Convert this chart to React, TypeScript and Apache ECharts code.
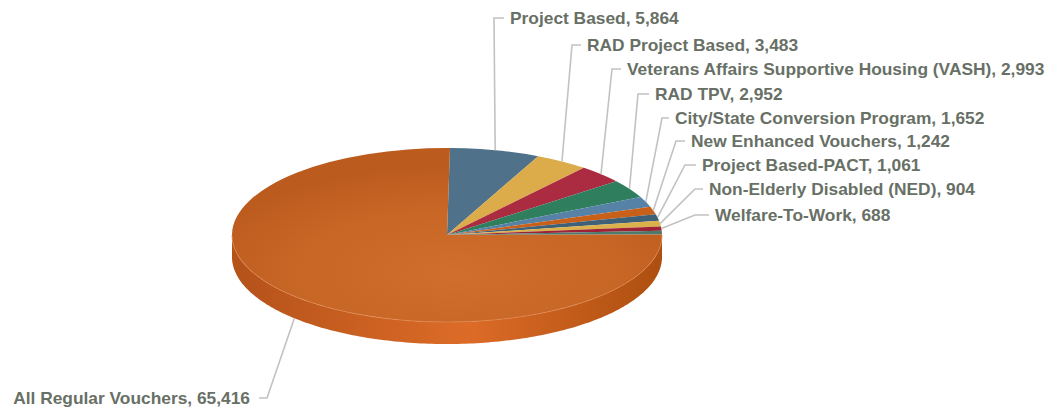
import React, { useEffect, useRef } from "react";
import * as echarts from "echarts";

const categories = [
  "Project Based",
  "RAD Project Based",
  "Veterans Affairs Supportive Housing (VASH)",
  "RAD TPV",
  "City/State Conversion Program",
  "New Enhanced Vouchers",
  "Project Based-PACT",
  "Non-Elderly Disabled (NED)",
  "Welfare-To-Work",
  "",
  "All Regular Vouchers",
];
const values = [5864, 3483, 2993, 2952, 1652, 1242, 1061, 904, 688, 600, 65416];
const sliceColors = [
  "#4f7189", "#dcab4a", "#ab2b41", "#2f7f5f", "#5582a6",
  "#c9601a", "#3f6178", "#dbb14b", "#9e2237", "#4d7a6c", "#c4611f",
];

// Where each label's leader line bends, and where its text begins.
const labelElbowX = [494, 572, 612, 638, 662, 676, 685, 695, 695, 0, 267];
const labelTextX = [510, 587, 627, 655, 675, 691, 702, 709, 715, 0, 250];
const labelY = [18, 45, 69, 94, 118, 141, 165, 189, 215, 0, 398];

const CX = 447;
const CY = 235;
const RX = 215;
const RY = 87;
const DEPTH = 22;
const START_DEG = 0.8;
const total = values.reduce((a, b) => a + b, 0);

const angleAt = (index: number) => {
  let sum = 0;
  for (let i = 0; i < index; i++) sum += values[i];
  return START_DEG + (sum / total) * 360;
};
const rimX = (deg: number) => CX + RX * Math.sin((deg * Math.PI) / 180);
const rimY = (deg: number) => CY - RY * Math.cos((deg * Math.PI) / 180);

function rimPoints(from: number, to: number, drop: number) {
  const pts: number[][] = [];
  const step = to >= from ? 1 : -1;
  for (let d = from; step > 0 ? d <= to : d >= to; d += step) pts.push([rimX(d), rimY(d) + drop]);
  pts.push([rimX(to), rimY(to) + drop]);
  return pts;
}

// Wall of the disc: the front half of the rim, pushed down by the depth.
function wallPath(from: number, to: number) {
  const all = [...rimPoints(from, to, 0), ...rimPoints(to, from, DEPTH)];
  return "M" + all.map((p) => `${p[0].toFixed(1)} ${p[1].toFixed(1)}`).join("L") + "Z";
}

function renderSlice(params: any) {
  const i = params.dataIndex;
  const a0 = angleAt(i);
  const a1 = angleAt(i + 1);
  const mid = (a0 + a1) / 2;
  const isMain = i === values.length - 1;
  const children: any[] = [];

  const from = Math.max(a0, 90);
  const to = Math.min(a1, 270);
  if (to > from) {
    children.push({
      type: "path",
      shape: { pathData: wallPath(from, to) },
      style: {
        fill: new echarts.graphic.LinearGradient(0, 0, 1, 0, [
          { offset: 0, color: "#b4521a" },
          { offset: 0.55, color: "#dc6b27" },
          { offset: 1, color: "#ad4f10" },
        ]),
      },
    });
  }

  // Top face: a circular sector flattened vertically into the ellipse.
  children.push({
    type: "sector",
    x: CX,
    y: CY,
    scaleY: RY / RX,
    shape: {
      cx: 0,
      cy: 0,
      r: RX,
      r0: 0,
      startAngle: ((a0 - 90) * Math.PI) / 180,
      endAngle: ((a1 - 90) * Math.PI) / 180,
      clockwise: true,
    },
    style: {
      fill: isMain
        ? new echarts.graphic.RadialGradient(0.52, 0.72, 0.62, [
            { offset: 0, color: "#d06e2e" },
            { offset: 0.6, color: "#c86626" },
            { offset: 1, color: "#bc5b1e" },
          ])
        : sliceColors[i],
    },
  });

  if (isMain) {
    // Thin highlight where the top face meets the wall.
    children.push({
      type: "polyline",
      shape: { points: rimPoints(from, to, 0) },
      style: { stroke: "#e08a52", lineWidth: 1, fill: "none", opacity: 0.7 },
    });
  }

  if (categories[i]) {
    // Leader line: rim of the slice, out to the elbow, then a short tick.
    const lower = mid > 90 && mid < 270;
    const tickX = isMain ? labelElbowX[i] - 8 : labelTextX[i] - 6;
    children.push({
      type: "polyline",
      shape: {
        points: [
          [rimX(mid), rimY(mid) + (lower ? DEPTH : 0)],
          [labelElbowX[i], labelY[i]],
          [tickX, labelY[i]],
        ],
      },
      style: { stroke: "#c2c2c2", lineWidth: 1.6, fill: "none" },
    });
    children.push({
      type: "text",
      x: labelTextX[i],
      y: labelY[i],
      style: {
        text: `${categories[i]}, ${values[i].toLocaleString("en-US")}`,
        font: 'bold 17.35px "Liberation Sans", Arial, sans-serif',
        fill: "#687066",
        align: isMain ? "right" : "left",
        verticalAlign: "middle",
      },
    });
  }
  return { type: "group", children };
}

export default function App() {
  const ref = useRef<HTMLDivElement>(null);
  useEffect(() => {
    const chart = echarts.init(ref.current!, null, { renderer: "svg" });
    chart.setOption({
      animation: false,
      backgroundColor: "#ffffff",
      series: [
        {
          type: "custom",
          coordinateSystem: "none",
          silent: true,
          data: values.map((v, i) => ({ value: [v], name: categories[i] })),
          renderItem: renderSlice,
        },
      ],
    });
    return () => chart.dispose();
  }, []);
  return <div ref={ref} style={{ width: 1053, height: 410, position: "absolute", left: 0, top: 0 }} />;
}
